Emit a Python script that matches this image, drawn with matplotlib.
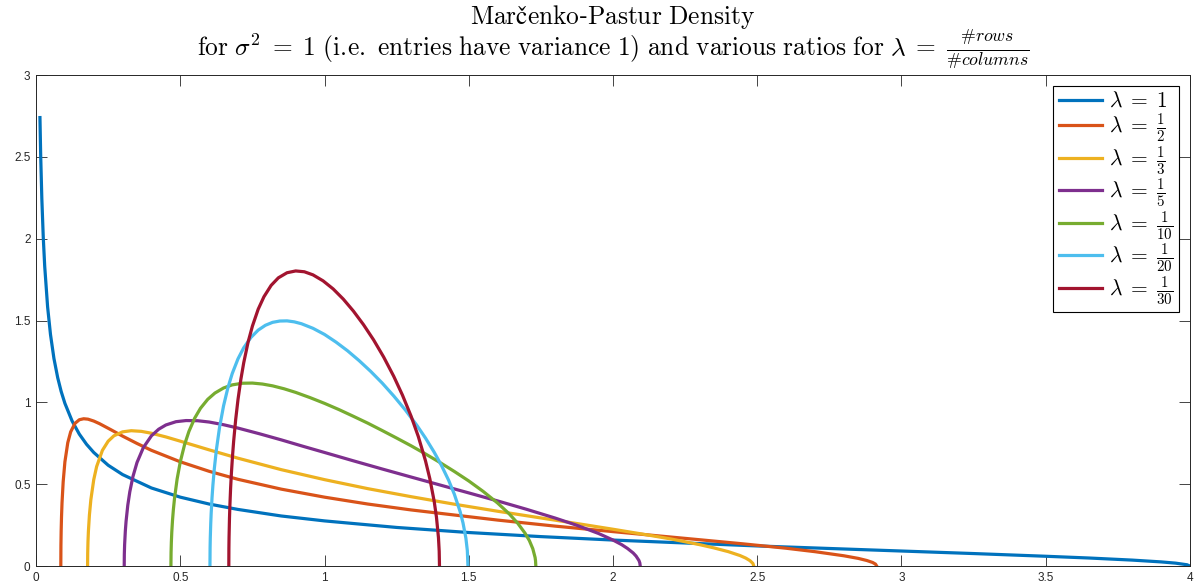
import io
import numpy as np
import matplotlib
matplotlib.use('Agg')
import matplotlib.pyplot as plt
from matplotlib import mathtext

plt.rcParams['mathtext.fontset'] = 'cm'
plt.rcParams['font.family'] = ['Liberation Sans', 'DejaVu Sans']

# density values, one (x, y) list per ratio
x_1 = [0.0135, 0.016, 0.02, 0.025, 0.03, 0.04, 0.05, 0.062, 0.075, 0.087, 0.1, 0.125,
       0.15, 0.175, 0.2, 0.25, 0.3, 0.4, 0.5, 0.6, 0.7, 0.85, 1.0, 1.25, 1.5, 1.75,
       2.0, 2.5, 3.0, 3.25, 3.5, 3.65, 3.8, 3.9, 3.95, 3.99, 4.0]
y_1 = [2.74, 2.511, 2.245, 2.007, 1.831, 1.584, 1.415, 1.268, 1.151, 1.067, 0.994, 0.886,
       0.806, 0.744, 0.694, 0.616, 0.559, 0.477, 0.421, 0.379, 0.346, 0.306, 0.276, 0.236,
       0.205, 0.180, 0.159, 0.123, 0.092, 0.0765, 0.060, 0.0493, 0.0365, 0.0255, 0.018,
       0.008, 0.0]

x_2 = [0.0858, 0.0862, 0.087, 0.0882, 0.09, 0.094, 0.1, 0.11, 0.12, 0.135, 0.15, 0.165,
       0.18, 0.2, 0.22, 0.26, 0.3, 0.35, 0.4, 0.5, 0.6, 0.7, 0.85, 1.0, 1.15, 1.3, 1.6,
       1.8, 2.0, 2.3, 2.45, 2.6, 2.7, 2.8, 2.85, 2.88, 2.9, 2.91, 2.9142]
y_2 = [0.0, 0.126, 0.214, 0.298, 0.386, 0.515, 0.637, 0.754, 0.820, 0.872, 0.894, 0.900,
       0.8975, 0.886, 0.870, 0.8325, 0.794, 0.749, 0.707, 0.637, 0.579, 0.530, 0.470,
       0.421, 0.379, 0.343, 0.281, 0.244, 0.2105, 0.161, 0.136, 0.109, 0.088, 0.063,
       0.047, 0.034, 0.022, 0.012, 0.0]

x_3 = [0.1786, 0.179, 0.18, 0.1815, 0.185, 0.19, 0.2, 0.21, 0.23, 0.25, 0.27, 0.3, 0.33,
       0.365, 0.4, 0.45, 0.5, 0.6, 0.7, 0.85, 1.0, 1.15, 1.3, 1.45, 1.6, 1.75, 1.9, 2.0,
       2.1, 2.2, 2.3, 2.35, 2.4, 2.44, 2.46, 2.475, 2.485, 2.488]
y_3 = [0.0, 0.078, 0.149, 0.214, 0.3125, 0.406, 0.528, 0.608, 0.707, 0.763, 0.796, 0.820,
       0.827, 0.823, 0.8115, 0.789, 0.763, 0.710, 0.659, 0.589, 0.528, 0.473, 0.424,
       0.378, 0.335, 0.294, 0.253, 0.225, 0.196, 0.166, 0.131, 0.111, 0.088, 0.0645,
       0.049, 0.033, 0.016, 0.0]

x_5 = [0.3056, 0.306, 0.307, 0.3095, 0.312, 0.318, 0.325, 0.336, 0.35, 0.372, 0.4, 0.425,
       0.45, 0.485, 0.52, 0.56, 0.6, 0.65, 0.7, 0.775, 0.85, 0.925, 1.0, 1.1, 1.2, 1.3,
       1.4, 1.5, 1.6, 1.7, 1.8, 1.875, 1.95, 2.0, 2.03, 2.05, 2.07, 2.08, 2.09, 2.093,
       2.0944]
y_5 = [0.0, 0.072, 0.131, 0.215, 0.273, 0.372, 0.454, 0.548, 0.633, 0.724, 0.796, 0.836,
       0.862, 0.882, 0.889, 0.888, 0.880, 0.8635, 0.843, 0.808, 0.771, 0.732, 0.694,
       0.643, 0.593, 0.544, 0.4955, 0.447, 0.398, 0.347, 0.293, 0.249, 0.199, 0.159,
       0.131, 0.108, 0.080, 0.061, 0.034, 0.019, 0.0]

x_10 = [0.4675, 0.468, 0.469, 0.4705, 0.473, 0.476, 0.48, 0.489, 0.5, 0.515, 0.53, 0.55,
        0.57, 0.595, 0.62, 0.65, 0.68, 0.715, 0.75, 0.785, 0.82, 0.86, 0.9, 0.95, 1.0,
        1.05, 1.1, 1.15, 1.2, 1.25, 1.3, 1.35, 1.4, 1.45, 1.5, 1.55, 1.6, 1.64, 1.67,
        1.695, 1.71, 1.722, 1.73, 1.7315, 1.7325]
y_10 = [0.0, 0.082, 0.1455, 0.207, 0.279, 0.345, 0.414, 0.532, 0.637, 0.743, 0.823,
        0.904, 0.964, 1.0185, 1.057, 1.088, 1.107, 1.117, 1.118, 1.112, 1.101, 1.083,
        1.061, 1.029, 0.994, 0.956, 0.915, 0.873, 0.828, 0.782, 0.735, 0.685, 0.633,
        0.578, 0.520, 0.456, 0.385, 0.3195, 0.261, 0.201, 0.156, 0.106, 0.052, 0.032, 0.0]

x_20 = [0.6028, 0.6033, 0.604, 0.6055, 0.607, 0.61, 0.613, 0.618, 0.625, 0.636, 0.65,
        0.665, 0.68, 0.7, 0.72, 0.745, 0.77, 0.795, 0.82, 0.845, 0.87, 0.895, 0.92, 0.96,
        1.0, 1.04, 1.08, 1.12, 1.16, 1.2, 1.24, 1.28, 1.32, 1.35, 1.38, 1.405, 1.43, 1.45,
        1.47, 1.48, 1.49, 1.495, 1.4972]
y_20 = [0.0, 0.113, 0.174, 0.259, 0.321, 0.4175, 0.4935, 0.596, 0.709, 0.8465, 0.979,
        1.089, 1.176, 1.266, 1.334, 1.397, 1.4415, 1.471, 1.489, 1.497, 1.498, 1.492,
        1.4805, 1.4525, 1.415, 1.368, 1.315, 1.255, 1.1895, 1.118, 1.039, 0.954, 0.860,
        0.782, 0.696, 0.616, 0.525, 0.439, 0.333, 0.264, 0.171, 0.095, 0.0]

x_30 = [0.6682, 0.6685, 0.669, 0.6705, 0.672, 0.6745, 0.677, 0.681, 0.685, 0.692, 0.7,
        0.71, 0.72, 0.735, 0.75, 0.77, 0.79, 0.815, 0.84, 0.87, 0.9, 0.93, 0.96, 0.995,
        1.03, 1.065, 1.1, 1.135, 1.17, 1.205, 1.24, 1.27, 1.3, 1.325, 1.35, 1.365, 1.38,
        1.388, 1.395, 1.3975, 1.3985]
y_30 = [0.0, 0.108, 0.174, 0.292, 0.374, 0.479, 0.5625, 0.672, 0.7635, 0.895, 1.017,
        1.141, 1.243, 1.368, 1.466, 1.569, 1.6455, 1.715, 1.761, 1.792, 1.803, 1.798,
        1.779, 1.7425, 1.693, 1.631, 1.558, 1.475, 1.382, 1.277, 1.159, 1.045, 0.916,
        0.792, 0.643, 0.534, 0.397, 0.299, 0.173, 0.091, 0.0]

labels = [r'$\lambda\;=\;1$', r'$\lambda\;=\;\frac{1}{2}$', r'$\lambda\;=\;\frac{1}{3}$',
          r'$\lambda\;=\;\frac{1}{5}$', r'$\lambda\;=\;\frac{1}{10}$',
          r'$\lambda\;=\;\frac{1}{20}$', r'$\lambda\;=\;\frac{1}{30}$']
colors = ['#0072BD', '#D95319', '#EDB120', '#7E2F8E', '#77AC30', '#4DBEEE', '#A2142F']

xticks = [0, 0.5, 1, 1.5, 2, 2.5, 3, 3.5, 4]
xtick_labels = ['0', '0.5', '1', '1.5', '2', '2.5', '3', '3.5', '4']
yticks = [0, 0.5, 1, 1.5, 2, 2.5, 3]
ytick_labels = ['0', '0.5', '1', '1.5', '2', '2.5', '3']


def parses(s):
    try:
        mathtext.math_to_image(s, io.BytesIO(), dpi=72, format='png')
        return True
    except Exception:
        return False


# pick a (small) fraction spelling that mathtext accepts
frac_options = [r'\genfrac{}{}{}{2}{\#rows}{\#columns}', r'\frac{\#rows}{\#columns}',
                r'\frac{\#\mathit{rows}}{\#\mathit{columns}}',
                r'\frac{\mathit{\#rows}}{\mathit{\#columns}}', r'\frac{rows}{columns}']
frac = frac_options[-1]
for f in frac_options:
    if parses('$' + f + '$'):
        frac = f
        break

fig = plt.figure(figsize=(11.94, 5.86), dpi=100)
ax = fig.add_axes([0.0302, 0.034, 0.9664, 0.838])

series = [(x_1, y_1), (x_2, y_2), (x_3, y_3), (x_5, y_5),
          (x_10, y_10), (x_20, y_20), (x_30, y_30)]
for (xs, ys), lab, c in zip(series, labels, colors):
    ax.plot(xs, ys, color=c, lw=2.3, label=lab, solid_joinstyle='round')

ax.set_xlim(0, 4)
ax.set_ylim(0, 3)
ax.set_xticks(xticks)
ax.set_xticklabels(xtick_labels)
ax.set_yticks(yticks)
ax.set_yticklabels(ytick_labels)
ax.tick_params(direction='in', length=8, width=0.6, top=True, right=True,
               labelsize=8.5, colors='#262626', labelcolor='#262626', pad=4)
for s in ax.spines.values():
    s.set_linewidth(0.7)
    s.set_color('#262626')

# two title lines placed on their own baselines
title1 = '$\\mathrm{Mar\u010denko}$-$\\mathrm{Pastur\\ Density}$'
title2 = (r'$\mathrm{for}\ \sigma^2\;=\;1\ \mathrm{(i.\!e.\ entries\ have\ variance\ 1)\ and\ various\ ratios\ for}\ \lambda\;=\;'
          + frac + '$')
fig.text(0.5134, 1 - 24 / 586, title1, ha='center', va='baseline', fontsize=18.3)
fig.text(0.5134, 1 - 56 / 586, title2, ha='center', va='baseline', fontsize=18.3)

leg = ax.legend(loc='upper right', fontsize=15.5, fancybox=False, framealpha=1,
                edgecolor='black', handlelength=2.0, labelspacing=-0.02,
                borderaxespad=0.5, handletextpad=0.35, borderpad=0.25)
leg.get_frame().set_linewidth(0.8)

fig.savefig('out.png', dpi=100)
